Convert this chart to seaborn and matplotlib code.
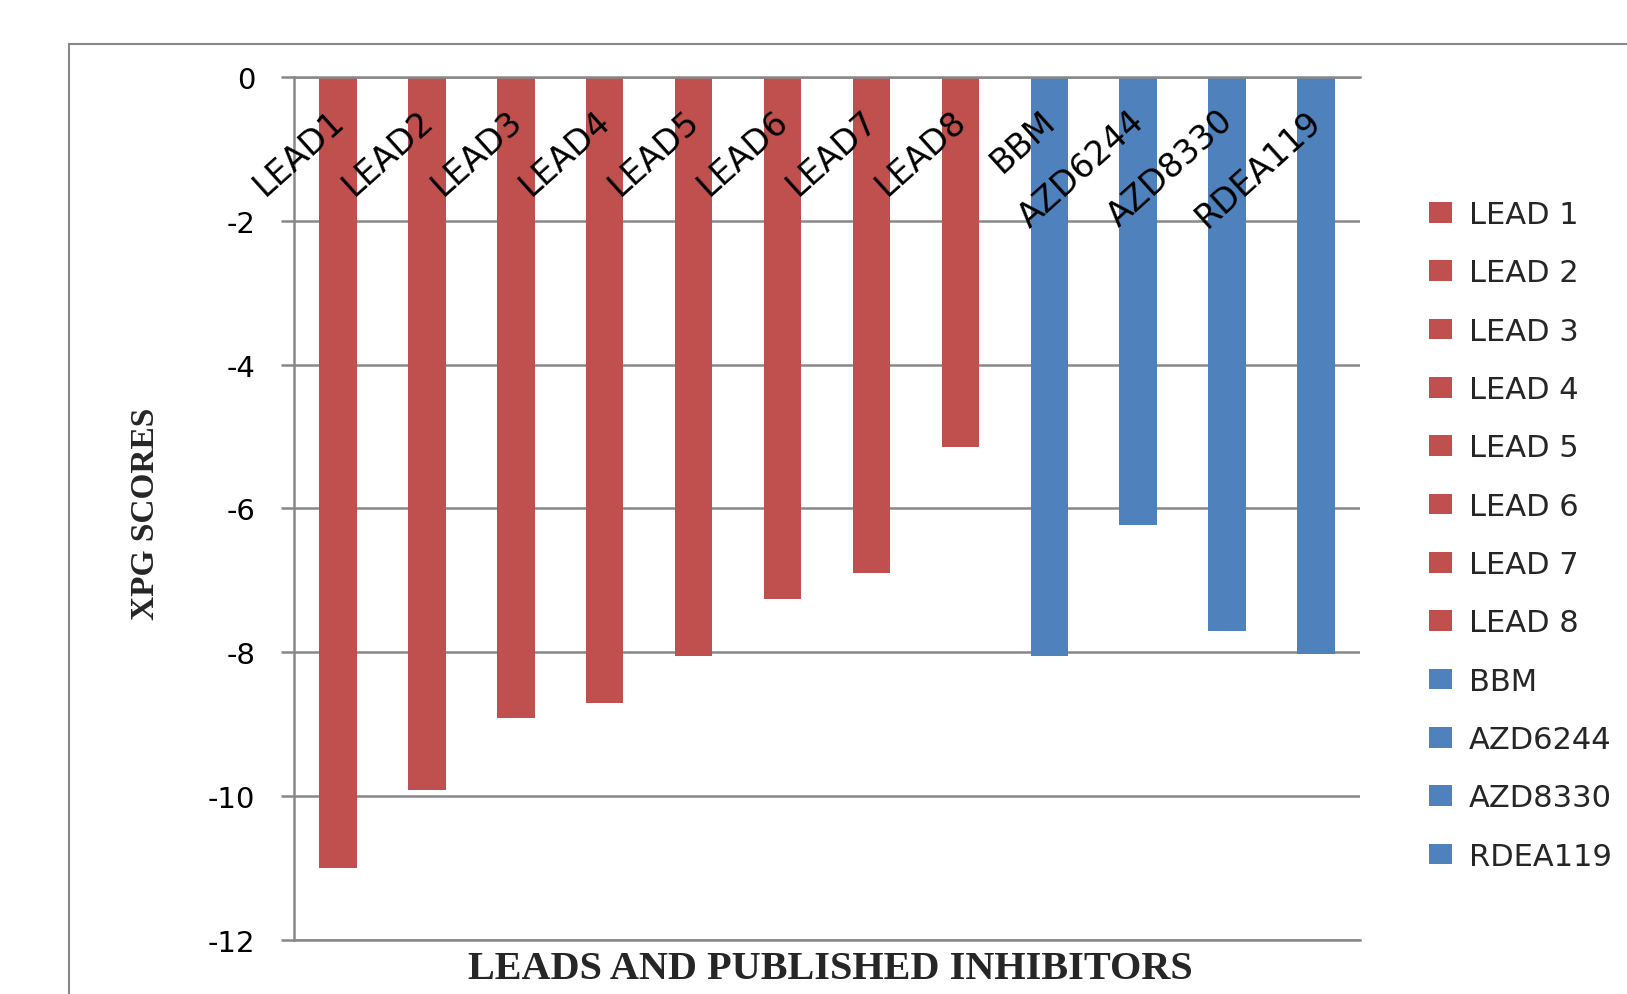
import matplotlib
matplotlib.use("Agg")
import matplotlib.pyplot as plt
from matplotlib.patches import Rectangle
import pandas as pd
import seaborn as sns

# Compound names on the category axis and their XPG docking scores
compounds = ["LEAD1", "LEAD2", "LEAD3", "LEAD4", "LEAD5", "LEAD6", "LEAD7", "LEAD8",
             "BBM", "AZD6244", "AZD8330", "RDEA119"]
legend_labels = ["LEAD 1", "LEAD 2", "LEAD 3", "LEAD 4", "LEAD 5", "LEAD 6", "LEAD 7",
                 "LEAD 8", "BBM", "AZD6244", "AZD8330", "RDEA119"]
xpg_scores = [-11.0, -9.91, -8.92, -8.71, -8.05, -7.26, -6.90, -5.14,
              -8.05, -6.23, -7.71, -8.02]
groups = ["lead"] * 8 + ["published"] * 4

y_ticks = [0, -2, -4, -6, -8, -10, -12]
y_tick_labels = ["0", "-2", "-4", "-6", "-8", "-10", "-12"]

group_colors = {"lead": "#C0504D", "published": "#4F81BD"}
GRID = "#888888"

sns.set_style("white")
plt.rcParams["font.family"] = ["DejaVu Sans"]

df = pd.DataFrame({"compound": compounds, "score": xpg_scores, "group": groups})
palette = {c: group_colors[g] for c, g in zip(compounds, groups)}

fig = plt.figure(figsize=(16.27, 9.95), dpi=100)
ax = fig.add_axes([0.1805, 0.0543, 0.6556, 0.8673])

sns.barplot(data=df, x="compound", y="score", hue="compound", palette=palette,
            order=compounds, hue_order=compounds, width=0.42, dodge=False,
            saturation=1, linewidth=0, legend=False, ax=ax)

ax.set_xlim(-0.5, len(compounds) - 0.5)
ax.set_ylim(-12, 0)
ax.set_yticks(y_ticks)
ax.set_yticklabels(y_tick_labels, fontsize=21)
ax.set_xticks([])
ax.set_xlabel("")
ax.set_ylabel("")

# horizontal gridlines behind the bars, gray frame on left/top/bottom
ax.set_axisbelow(True)
ax.yaxis.grid(True, color=GRID, linewidth=1.8)
for side in ["left", "top", "bottom"]:
    ax.spines[side].set_visible(True)
    ax.spines[side].set_color(GRID)
    ax.spines[side].set_linewidth(1.8)
ax.spines["right"].set_visible(False)
ax.tick_params(axis="y", which="major", length=9.5, width=1.8, color=GRID, pad=18,
               left=True, labelcolor="black")

# slanted category names sitting just under the zero line
for i, name in enumerate(compounds):
    ax.annotate(name, xy=(i, 0), xycoords="data", xytext=(9, -19),
                textcoords="offset points", rotation=42, ha="right", va="top",
                fontsize=24, color="black")

# legend built from the drawn bars
handles = [c[0] for c in ax.containers]
fig.legend(handles, legend_labels, loc="upper left",
           bbox_to_anchor=(1429 / 1627, 1 - 201 / 995), frameon=False,
           fontsize=22, handlelength=0.76, handleheight=0.66, handletextpad=0.55,
           labelspacing=0.96, borderpad=0, borderaxespad=0)

# axis titles
fig.text(145 / 1627, 1 - 514 / 995, "XPG SCORES", rotation=90, ha="center", va="center",
         fontsize=24, fontweight="bold", family="Liberation Serif")
fig.text(830 / 1627, 1 - 970 / 995, "LEADS AND PUBLISHED INHIBITORS", ha="center",
         va="center", fontsize=29, fontweight="bold", family="Liberation Serif")

# outer chart frame
fig.add_artist(Rectangle((68.5 / 1627, -0.2), 1.5, 1.2 - 44.6 / 995, transform=fig.transFigure,
                         fill=False, edgecolor=GRID, linewidth=1.5, clip_on=False))

fig.savefig("out.png", dpi=100)
